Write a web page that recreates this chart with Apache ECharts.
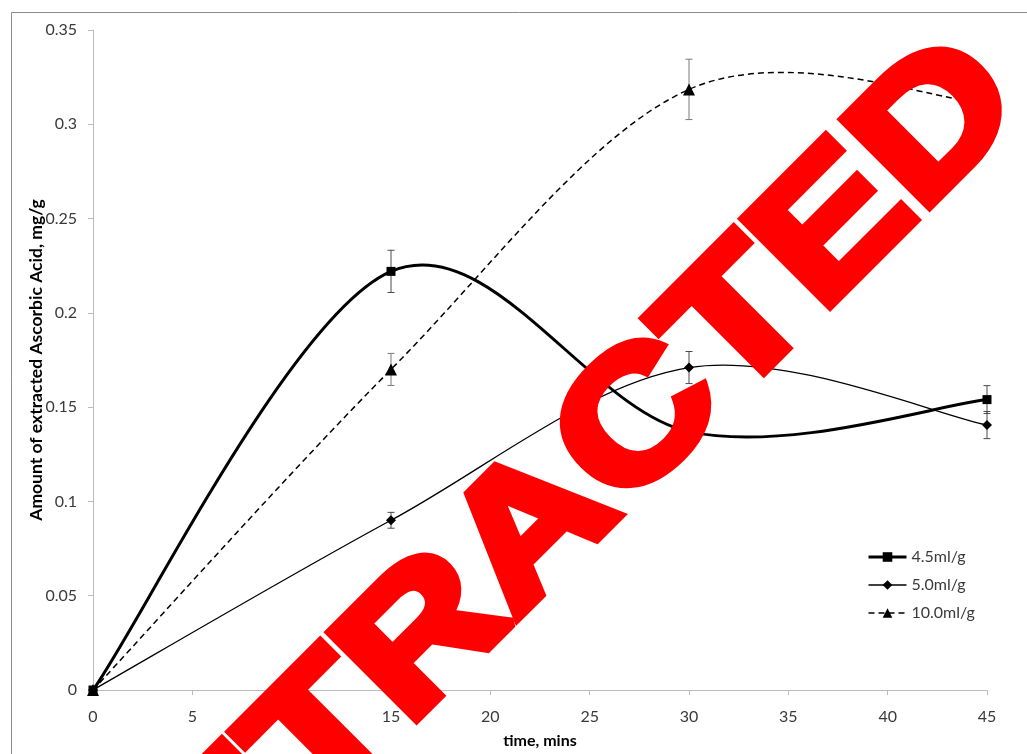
<!DOCTYPE html>
<html>
<head>
<meta charset="utf-8">
<script src="https://cdn.jsdelivr.net/npm/echarts@6/dist/echarts.min.js"></script>
<style>
  html, body { margin: 0; padding: 0; background: #fff; }
  #chart { width: 1027px; height: 754px; }
</style>
</head>
<body>
<div id="chart"></div>
<script>
// Extraction time (mins)
const times = [0, 15, 30, 45];

// Amount of extracted ascorbic acid (mg/g) per solvent ratio
const ratio45 = [0, 0.222, 0.137, 0.154];
const ratio50 = [0, 0.090, 0.171, 0.1405];
const ratio100 = [0, 0.170, 0.3185, 0.311];

// Error bar half-widths (mg/g)
const err45 = [0, 0.0112, 0.008, 0.0074];
const err50 = [0, 0.0042, 0.0085, 0.0072];
const err100 = [0, 0.0085, 0.016, 0.014];

const seriesNames = ['4.5ml/g', '5.0ml/g', '10.0ml/g'];

const FONT = 'Lato, "Liberation Sans", sans-serif';
const TEXT = '#3a3a3a';

const lineStyles = [
  { color: '#000', width: 3, type: 'solid' },
  { color: '#000', width: 1.3, type: 'solid' },
  { color: '#000', width: 1.5, type: [6, 4] }
];

function pairs(vals) {
  return times.map((t, i) => [t, vals[i]]);
}

// Smoothed curve (cardinal spline, tension 1/6) through the points, in pixel space
function curveSeries(name, vals, ls) {
  return {
    name: name + ' curve',
    type: 'custom',
    silent: true,
    z: 2,
    data: pairs(vals),
    renderItem: function (params, api) {
      if (params.dataIndex !== 0) return null;
      const p = times.map((t, i) => api.coord([t, vals[i]]));
      const n = p.length;
      let d = 'M' + p[0][0] + ' ' + p[0][1];
      for (let i = 0; i < n - 1; i++) {
        const p0 = p[Math.max(i - 1, 0)], p1 = p[i], p2 = p[i + 1], p3 = p[Math.min(i + 2, n - 1)];
        const c1x = p1[0] + (p2[0] - p0[0]) / 6, c1y = p1[1] + (p2[1] - p0[1]) / 6;
        const c2x = p2[0] - (p3[0] - p1[0]) / 6, c2y = p2[1] - (p3[1] - p1[1]) / 6;
        d += ' C' + c1x + ' ' + c1y + ' ' + c2x + ' ' + c2y + ' ' + p2[0] + ' ' + p2[1];
      }
      return {
        type: 'path',
        shape: { pathData: d },
        style: {
          fill: 'none',
          stroke: ls.color,
          lineWidth: ls.width,
          lineDash: ls.type === 'solid' ? null : ls.type
        }
      };
    }
  };
}

function errorBars(name, vals, errs, color) {
  return {
    name: name + ' error',
    type: 'custom',
    silent: true,
    z: 1,
    data: times.map((t, i) => [t, vals[i] - errs[i], vals[i] + errs[i]]),
    renderItem: function (params, api) {
      const lo = api.coord([api.value(0), api.value(1)]);
      const hi = api.coord([api.value(0), api.value(2)]);
      if (Math.abs(lo[1] - hi[1]) < 0.5) return null;
      const half = 3.5;
      const st = { stroke: color, lineWidth: 1 };
      return {
        type: 'group',
        children: [
          { type: 'line', shape: { x1: lo[0], y1: lo[1], x2: hi[0], y2: hi[1] }, style: st },
          { type: 'line', shape: { x1: lo[0] - half, y1: lo[1], x2: lo[0] + half, y2: lo[1] }, style: st },
          { type: 'line', shape: { x1: hi[0] - half, y1: hi[1], x2: hi[0] + half, y2: hi[1] }, style: st }
        ]
      };
    }
  };
}

// Point markers (the line itself is drawn by the curve series)
function markerSeries(idx, vals, symbol, size) {
  return {
    name: seriesNames[idx], type: 'line', z: 3,
    data: pairs(vals),
    symbol: symbol, symbolSize: size,
    itemStyle: { color: '#000' },
    lineStyle: { opacity: 0 }
  };
}

const chart = echarts.init(document.getElementById('chart'), null, { renderer: 'canvas' });

chart.setOption({
  animation: false,
  backgroundColor: '#ffffff',
  grid: { left: 93, right: 40, top: 30, bottom: 64, containLabel: false },
  xAxis: {
    type: 'value',
    min: 0, max: 45, interval: 5,
    name: 'time, mins',
    nameLocation: 'middle',
    nameGap: 43,
    nameMoveOverlap: false,
    nameTextStyle: { fontFamily: FONT, fontSize: 16, fontWeight: 'bold', color: '#000' },
    axisLine: { show: true, lineStyle: { color: '#bcbcbc', width: 1 } },
    axisTick: { show: true, length: 5, inside: false, lineStyle: { color: '#bcbcbc' } },
    axisLabel: { fontFamily: FONT, fontSize: 16, color: TEXT, margin: 19 },
    splitLine: { show: false }
  },
  yAxis: {
    type: 'value',
    min: 0, max: 0.35, interval: 0.05,
    name: 'Amount of extracted Ascorbic Acid, mg/g',
    nameLocation: 'middle',
    nameGap: 48,
    nameMoveOverlap: false,
    nameRotate: 90,
    nameTextStyle: { fontFamily: FONT, fontSize: 17.5, fontWeight: 'bold', color: '#000' },
    axisLine: { show: true, lineStyle: { color: '#bcbcbc', width: 1 } },
    axisTick: { show: true, length: 5, inside: false, lineStyle: { color: '#bcbcbc' } },
    axisLabel: { fontFamily: FONT, fontSize: 16, color: TEXT, margin: 16 },
    splitLine: { show: false }
  },
  legend: {
    orient: 'vertical',
    left: 862,
    top: 544,
    itemWidth: 38,
    itemHeight: 12,
    itemGap: 12,
    data: seriesNames.map((n, i) => ({ name: n, lineStyle: Object.assign({ opacity: 1 }, lineStyles[i]) })),
    textStyle: { fontFamily: FONT, fontSize: 16, color: TEXT }
  },
  series: [
    curveSeries(seriesNames[0], ratio45, lineStyles[0]),
    curveSeries(seriesNames[1], ratio50, lineStyles[1]),
    curveSeries(seriesNames[2], ratio100, lineStyles[2]),
    markerSeries(0, ratio45, 'rect', 9),
    markerSeries(1, ratio50, 'diamond', 10),
    markerSeries(2, ratio100, 'triangle', 12),
    errorBars(seriesNames[0], ratio45, err45, '#4a4a4a'),
    errorBars(seriesNames[1], ratio50, err50, '#4a4a4a'),
    errorBars(seriesNames[2], ratio100, err100, '#7a7a7a')
  ],
  graphic: [
    {
      type: 'rect', silent: true, z: 0,
      shape: { x: 11.5, y: 12.5, width: 1100, height: 1000 },
      style: { fill: 'none', stroke: '#8c8c8c', lineWidth: 1 }
    },
    {
      type: 'text', silent: true, z: 100,
      x: 534, y: 532,
      rotation: Math.PI / 4,
      scaleX: 1.19,
      style: {
        text: 'RETRACTED',
        font: 'bold 177px "Liberation Sans", Arial, sans-serif',
        fill: '#ff0000',
        stroke: '#ff0000',
        lineWidth: 10,
        lineJoin: 'miter',
        align: 'center',
        verticalAlign: 'middle'
      }
    }
  ]
});
</script>
</body>
</html>
